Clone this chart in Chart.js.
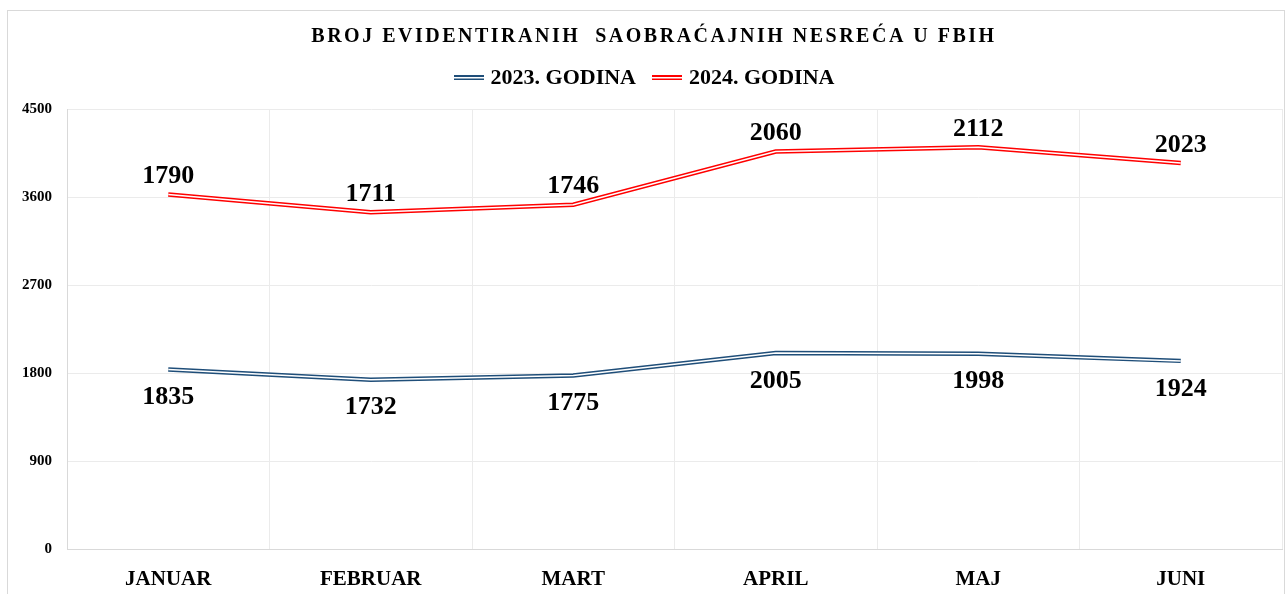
<!DOCTYPE html>
<html>
<head>
<meta charset="utf-8">
<script src="https://cdn.jsdelivr.net/npm/chart.js@4.4.1/dist/chart.umd.min.js"></script>
<style>
  html, body { margin: 0; padding: 0; background: #fff; }
  #wrap { width: 1287px; height: 594px; position: relative; }
</style>
</head>
<body>
<div id="wrap"><canvas id="nesrece"></canvas></div>
<script>
// podaci
const categories = ['JANUAR', 'FEBRUAR', 'MART', 'APRIL', 'MAJ', 'JUNI'];
const values2023 = [1835, 1732, 1775, 2005, 1998, 1924];
const values2024 = [1790, 1711, 1746, 2060, 2112, 2023];
const seriesNames = ['2023. GODINA', '2024. GODINA'];
const yTicks = [0, 900, 1800, 2700, 3600, 4500];
const chartTitle = 'BROJ EVIDENTIRANIH  SAOBRAĆAJNIH NESREĆA U FBIH';

const BLUE = '#1F4E79';
const RED = '#FF0000';
const SERIF = '"Liberation Serif", "DejaVu Serif", serif';

// mala slika dvostruke linije za legendu
function lineSample(color) {
  const c = document.createElement('canvas');
  c.width = 30; c.height = 6;
  const g = c.getContext('2d');
  g.fillStyle = color;
  g.fillRect(0, 0, 30, 5);
  g.fillStyle = '#fff';
  g.fillRect(0, 2, 30, 1.5);
  return c;
}

// okvir i naslov (sa razmakom slova)
const frameAndTitle = {
  id: 'frameAndTitle',
  afterInit(chart) {
    // malo vise prostora ispod legende
    const fit = chart.legend.fit;
    chart.legend.fit = function () {
      fit.call(this);
      this.height += 10;
    };
  },
  beforeDraw(chart) {
    const ctx = chart.ctx;
    ctx.save();
    ctx.fillStyle = '#fff';
    ctx.fillRect(0, 0, chart.width, chart.height);
    ctx.strokeStyle = '#d9d9d9';
    ctx.lineWidth = 1;
    ctx.strokeRect(7.5, 10.5, chart.width - 10, chart.height);
    ctx.restore();
  },
  afterDraw(chart) {
    const ctx = chart.ctx;
    ctx.save();
    ctx.font = 'bold 20px ' + SERIF;
    ctx.letterSpacing = '2.5px';
    ctx.fillStyle = '#000';
    ctx.textAlign = 'center';
    ctx.textBaseline = 'middle';
    ctx.fillText(chartTitle, 654, 37);
    ctx.restore();
  }
};

// bijela sredina linija + oznake vrijednosti
const doubleLines = {
  id: 'doubleLines',
  afterDatasetsDraw(chart) {
    const ctx = chart.ctx;
    ctx.save();
    chart.data.datasets.forEach((ds, i) => {
      const pts = chart.getDatasetMeta(i).data;
      ctx.beginPath();
      pts.forEach((p, j) => j ? ctx.lineTo(p.x, p.y) : ctx.moveTo(p.x, p.y));
      ctx.strokeStyle = '#fff';
      ctx.lineWidth = 1.5;
      ctx.lineJoin = 'round';
      ctx.stroke();
    });
    ctx.font = 'bold 26px ' + SERIF;
    ctx.fillStyle = '#000';
    ctx.textAlign = 'center';
    ctx.textBaseline = 'middle';
    chart.data.datasets.forEach((ds, i) => {
      const pts = chart.getDatasetMeta(i).data;
      pts.forEach((p, j) => {
        const dy = i === 0 ? 28 : -18;
        ctx.fillText(String(ds.data[j]), p.x, p.y + dy);
      });
    });
    ctx.restore();
  }
};

new Chart(document.getElementById('nesrece'), {
  type: 'line',
  data: {
    labels: categories,
    datasets: [
      { label: seriesNames[0], data: values2023, borderColor: BLUE, backgroundColor: BLUE,
        borderWidth: 4.5, pointRadius: 0, tension: 0, fill: false },
      { label: seriesNames[1], data: values2024, borderColor: RED, backgroundColor: RED,
        borderWidth: 4.5, pointRadius: 0, tension: 0, fill: false }
    ]
  },
  options: {
    responsive: true,
    maintainAspectRatio: false,
    animation: false,
    layout: { padding: { top: 47, left: 10, right: 5, bottom: 0 } },
    plugins: {
      title: { display: false },
      tooltip: { enabled: false },
      legend: {
        position: 'top',
        labels: {
          usePointStyle: true,
          pointStyleWidth: 22,
          padding: 20,
          color: '#000',
          font: { family: SERIF, size: 22, weight: 'bold' },
          generateLabels(chart) {
            return chart.data.datasets.map((ds, i) => ({
              text: ds.label,
              pointStyle: lineSample(ds.borderColor),
              fillStyle: ds.borderColor,
              strokeStyle: ds.borderColor,
              lineWidth: 0,
              hidden: false,
              datasetIndex: i
            }));
          }
        }
      }
    },
    scales: {
      x: {
        offset: true,
        grid: { color: '#ebebeb', drawTicks: false, offset: true },
        border: { color: '#d9d9d9' },
        ticks: { color: '#000', padding: 18, font: { family: SERIF, size: 21, weight: 'bold' } },
        afterFit(s) { s.height = 45; }
      },
      y: {
        stacked: true,
        min: 0,
        max: 4500,
        afterBuildTicks(s) { s.ticks = yTicks.map(v => ({ value: v })); },
        grid: { color: '#ebebeb', drawTicks: false },
        border: { color: '#d9d9d9' },
        ticks: {
          color: '#000', padding: 15,
          font: { family: SERIF, size: 15, weight: 'bold' },
          callback: v => String(v)
        },
        afterFit(s) { s.width = 57; }
      }
    }
  },
  plugins: [frameAndTitle, doubleLines]
});
</script>
</body>
</html>
